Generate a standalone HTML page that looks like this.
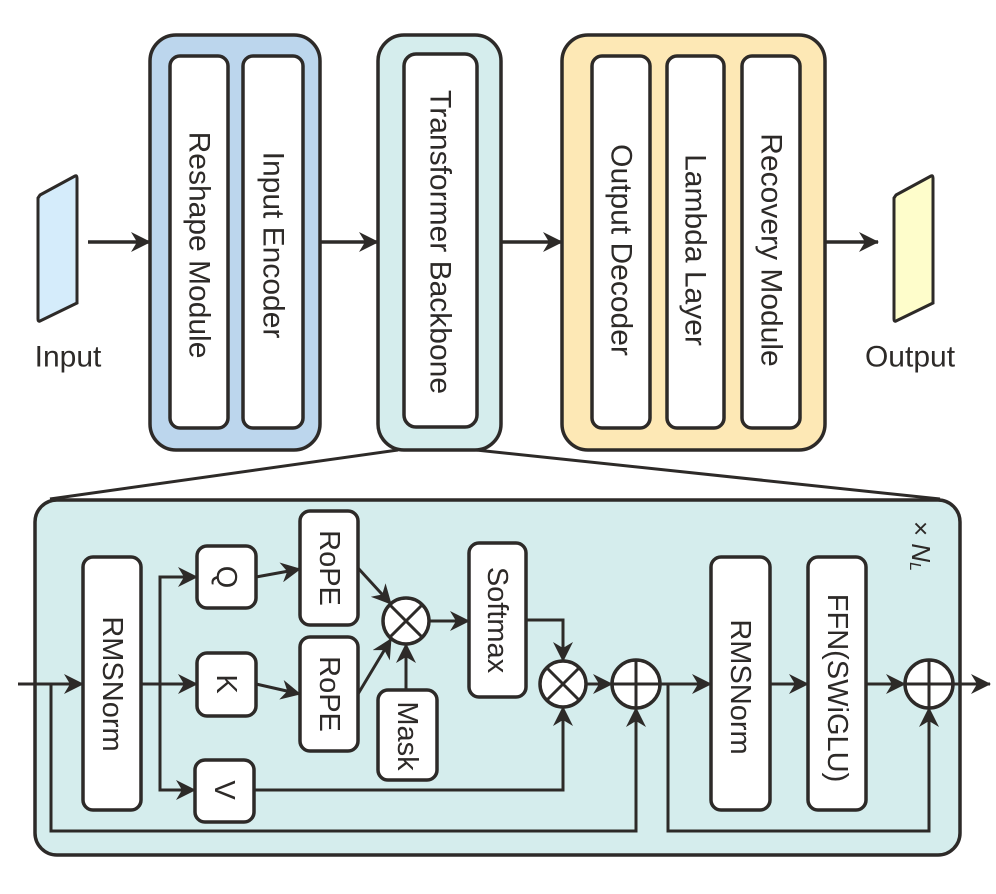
<!DOCTYPE html>
<html><head><meta charset="utf-8"><style>
html,body{margin:0;padding:0;background:#fff}
svg{display:block}
text{font-family:"Liberation Sans",Arial,sans-serif;fill:#2d2a28}
</style></head><body>
<svg width="996" height="894" viewBox="0 0 996 894" xmlns="http://www.w3.org/2000/svg">
<defs>
<marker id="a" viewBox="0 0 20 20" refX="19" refY="10" markerWidth="20" markerHeight="20" markerUnits="userSpaceOnUse" orient="auto">
<path d="M0,0 L20,10 L0,20 L6,10 Z" fill="#2d2a28"/>
</marker>
<marker id="b" viewBox="0 0 20 20" refX="19" refY="10" markerWidth="20" markerHeight="20" markerUnits="userSpaceOnUse" orient="auto">
<path d="M0,0 L20,10 L0,20 L6,10 Z" fill="#2d2a28"/>
</marker>
</defs>
<g stroke="#2d2a28" stroke-width="3.5" fill="none">
<!-- top -->
<path d="M40,195 L75,176 Q77,175 77,178 L77,303 L40,321 Q38,322 38,319 L38,198 Z" fill="#d5ecfb" stroke-width="3"/>
<path d="M896,195 L931,176 Q933,175 933,178 L933,303 L896,321 Q894,322 894,319 L894,198 Z" fill="#fefdcb" stroke-width="3"/>
<rect x="150" y="35" width="170" height="415" rx="26" fill="#bcd6ed"/>
<rect x="170" y="56" width="58" height="372" rx="10" fill="#fff"/>
<rect x="243" y="56" width="60" height="372" rx="10" fill="#fff"/>
<rect x="378" y="35" width="123" height="415" rx="26" fill="#d5eded"/>
<rect x="404" y="54" width="73" height="373" rx="12" fill="#fff"/>
<rect x="562" y="35" width="263" height="415" rx="26" fill="#fde8b5"/>
<rect x="592" y="56" width="58" height="372" rx="10" fill="#fff"/>
<rect x="667" y="56" width="57" height="372" rx="10" fill="#fff"/>
<rect x="742" y="56" width="58" height="372" rx="10" fill="#fff"/>
<line x1="88" y1="242" x2="150" y2="242" marker-end="url(#b)"/>
<line x1="320" y1="242" x2="378" y2="242" marker-end="url(#b)"/>
<line x1="501" y1="242" x2="562" y2="242" marker-end="url(#b)"/>
<line x1="826" y1="242" x2="878" y2="242" marker-end="url(#b)"/>
<line x1="398" y1="450" x2="50" y2="499" stroke-width="3"/>
<line x1="476" y1="450" x2="940" y2="499" stroke-width="3"/>
<!-- bottom -->
<rect x="35" y="500" width="925" height="355" rx="22" fill="#d5eded"/>
<g fill="#fff">
<rect x="83" y="557" width="58" height="253" rx="10"/>
<rect x="197" y="546" width="59" height="62" rx="10"/>
<rect x="197" y="653" width="59" height="63" rx="10"/>
<rect x="195" y="760" width="59" height="62" rx="10"/>
<rect x="300" y="511" width="58" height="114" rx="10"/>
<rect x="300" y="637" width="58" height="114" rx="10"/>
<rect x="378" y="690" width="59" height="90" rx="10"/>
<rect x="469" y="543" width="57" height="154" rx="10"/>
<rect x="711" y="557" width="59" height="253" rx="10"/>
<rect x="808" y="557" width="58" height="253" rx="10"/>
<circle cx="406" cy="621" r="23"/>
<circle cx="563" cy="684" r="23"/>
<circle cx="636" cy="684" r="24"/>
<circle cx="929" cy="684" r="24"/>
</g>
<path d="M390,605 L422,637 M422,605 L390,637 M547,668 L579,700 M579,668 L547,700 M612,684 L660,684 M636,660 L636,708 M905,684 L953,684 M929,660 L929,708" stroke-width="3"/>
<g stroke-width="3">
<line x1="18" y1="684" x2="83" y2="684" marker-end="url(#a)"/>
<path d="M51,684 L51,831 L636,831 L636,708" marker-end="url(#a)"/>
<path d="M141,684 L197,684" marker-end="url(#a)"/>
<path d="M160,684 L160,577 L197,577" marker-end="url(#a)"/>
<path d="M160,684 L160,790 L195,790" marker-end="url(#a)"/>
<line x1="256" y1="577" x2="300" y2="569" marker-end="url(#a)"/>
<line x1="256" y1="684" x2="300" y2="694" marker-end="url(#a)"/>
<line x1="358" y1="568" x2="391" y2="604" marker-end="url(#a)"/>
<line x1="358" y1="694" x2="391" y2="639" marker-end="url(#a)"/>
<line x1="406" y1="690" x2="406" y2="644" marker-end="url(#a)"/>
<line x1="429" y1="621" x2="469" y2="621" marker-end="url(#a)"/>
<path d="M526,620 L563,620 L563,661" marker-end="url(#a)"/>
<path d="M254,790 L563,790 L563,707" marker-end="url(#a)"/>
<line x1="586" y1="684" x2="612" y2="684" marker-end="url(#a)"/>
<line x1="660" y1="684" x2="711" y2="684" marker-end="url(#a)"/>
<line x1="770" y1="684" x2="808" y2="684" marker-end="url(#a)"/>
<line x1="866" y1="684" x2="905" y2="684" marker-end="url(#a)"/>
<line x1="953" y1="684" x2="990" y2="684" marker-end="url(#a)"/>
<path d="M668,684 L668,831 L929,831 L929,708" marker-end="url(#a)"/>
</g>
</g>
<g font-size="30" text-anchor="middle" dominant-baseline="central">
<text x="68" y="357">Input</text>
<text x="910" y="357">Output</text>
<text transform="translate(199,245) rotate(90)">Reshape Module</text>
<text transform="translate(273,245) rotate(90)">Input Encoder</text>
<text transform="translate(440,242) rotate(90)">Transformer Backbone</text>
<text transform="translate(621,250) rotate(90)">Output Decoder</text>
<text transform="translate(695,250) rotate(90)">Lambda Layer</text>
<text transform="translate(771,250) rotate(90)">Recovery Module</text>
</g>
<g font-size="29" text-anchor="middle" dominant-baseline="central">
<text transform="translate(112,684) rotate(90)">RMSNorm</text>
<text transform="translate(226,577) rotate(90)">Q</text>
<text transform="translate(226,684) rotate(90)">K</text>
<text transform="translate(224,790) rotate(90)">V</text>
<text transform="translate(329,568) rotate(90)">RoPE</text>
<text transform="translate(329,694) rotate(90)">RoPE</text>
<text transform="translate(407,736) rotate(90)">Mask</text>
<text transform="translate(497,620) rotate(90)">Softmax</text>
<text transform="translate(740,687) rotate(90)">RMSNorm</text>
<text transform="translate(837,688) rotate(90)">FFN(SWiGLU)</text>
<text transform="translate(921,546) rotate(90)" font-size="26" font-family="Liberation Serif,serif" font-style="italic"><tspan font-style="normal">× </tspan>N<tspan font-size="16" dy="6">L</tspan></text>
</g>
</svg>
</body></html>
